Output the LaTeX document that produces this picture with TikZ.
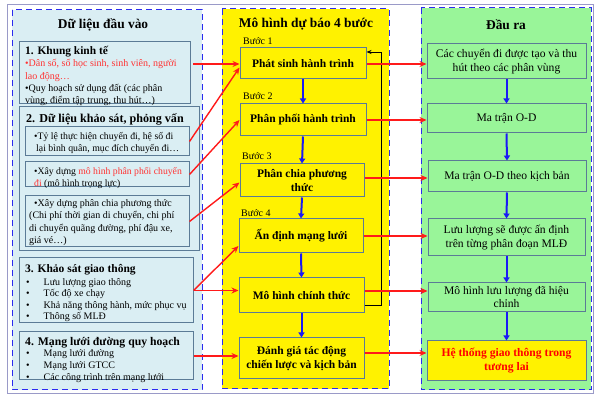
\documentclass[tikz,border=0pt]{standalone}
\usepackage{fontspec}
\setmainfont{Liberation Serif}
\usetikzlibrary{arrows.meta}
\definecolor{lblue}{HTML}{DAEEF3}
\definecolor{ygreen}{HTML}{99F599}
\definecolor{boxline}{HTML}{5B7B96}
\definecolor{dashblue}{HTML}{2B2BF0}
\definecolor{redarr}{HTML}{FF1A1A}
\definecolor{redtxt}{HTML}{FF3333}
\definecolor{bluearr}{HTML}{1A1AF5}
\definecolor{framecol}{HTML}{9A9AC8}
\tikzset{
  colbox/.style={draw=dashblue, line width=1pt, dash pattern=on 6pt off 4pt},
  inbox/.style={draw=boxline, line width=1pt, inner sep=0pt},
  ttl/.style={font=\bfseries\fontsize{13.4}{15}\selectfont, inner sep=0pt},
  btitle/.style={font=\bfseries\fontsize{11.6}{14}\selectfont, anchor=west, inner sep=0pt},
  body/.style={font=\fontsize{10}{12.3}\selectfont, anchor=north west, align=left, inner sep=0pt},
  midtxt/.style={font=\bfseries\fontsize{11.5}{13.5}\selectfont, align=center},
  rtxt/.style={font=\fontsize{11.6}{14}\selectfont, align=center},
  steplbl/.style={font=\fontsize{10}{11}\selectfont, anchor=west, inner sep=0pt},
  redline/.style={color=redarr, draw=redarr, line width=1.4pt, -{Stealth[length=7pt,width=6pt]}},
  blueline/.style={color=bluearr, draw=bluearr, line width=2pt, -{Triangle[length=5pt,width=6pt]}},
  blkline/.style={color=black, draw=black, line width=0.9pt, -{Stealth[length=5pt,width=4pt]}}
}
\begin{document}
\begin{tikzpicture}[x=1pt,y=-1pt]
\useasboundingbox (0,0) rectangle (595,395);
\draw[framecol, line width=0.6pt] (7,4) rectangle (593,393);
\path[fill=lblue, colbox] (12,10) rectangle (202,390);
\path[fill=yellow, colbox] (222,9) rectangle (389,389);
\path[fill=ygreen, colbox] (421,8) rectangle (591,390);
\node[ttl] (tL) at (103,24.5) {Dữ liệu đầu vào};
\node[ttl] (tM) at (306,24.5) {Mô hình dự báo 4 bước};
\node[ttl] (tR) at (506,24.5) {Đầu ra};
\node[inbox, fill=lblue, minimum width=171pt, minimum height=62pt] (L1) at (104.5,73) {};
\node[inbox, fill=lblue, minimum width=180pt, minimum height=144pt] (L2) at (109,179) {};
\node[inbox, fill=lblue, minimum width=164pt, minimum height=29pt] (La) at (107,141.5) {};
\node[inbox, fill=lblue, minimum width=164pt, minimum height=25pt] (Lb) at (107,174.5) {};
\node[inbox, fill=lblue, minimum width=164pt, minimum height=51pt] (Lc) at (107,221.5) {};
\node[inbox, fill=lblue, minimum width=174pt, minimum height=65pt] (L3) at (106,290.5) {};
\node[inbox, fill=lblue, minimum width=174pt, minimum height=48pt] (L4) at (106,356) {};
\node[btitle, font=\bfseries\fontsize{11.4}{14}\selectfont] (L1t) at (25,52) {1. Khung kinh tế};
\node[body] (L1b) at (25,59.5) {\color{redtxt}•Dân số, số học sinh, sinh viên, người\\\color{redtxt}lao động…\\•Quy hoạch sử dụng đất (các phân\\vùng, điểm tập trung, thu hút…)};
\node[btitle, font=\bfseries\fontsize{12.1}{14}\selectfont] (L2t) at (26,119.5) {2. Dữ liệu khảo sát, phỏng vấn};
\node[body, font=\fontsize{9.8}{12.3}\selectfont] (Lab) at (34,132) {•Tỷ lệ thực hiện chuyến đi, hệ số đi\\\hspace{2pt}lại bình quân, mục đích chuyến đi…};
\node[body, font=\fontsize{9.7}{11.3}\selectfont] (Lbb) at (34,167.5) {•Xây dựng {\color{redtxt}mô hình phân phối chuyến}\\{\color{redtxt}đi} (mô hình trọng lực)};
\node[body] (Lcb) at (29,199.5) {\hspace{5pt}•Xây dựng phân chia phương thức\\(Chi phí thời gian di chuyển, chi phí\\di chuyển quãng đường, phí đậu xe,\\giá vé…)};
\node[btitle, font=\bfseries\fontsize{11.5}{14}\selectfont] (L3t) at (25,269.5) {3. Khảo sát giao thông};
\node[body, font=\fontsize{10}{11.6}\selectfont] (L3b) at (26,278) {•\hspace{14pt}Lưu lượng giao thông\\•\hspace{14pt}Tốc độ xe chạy\\•\hspace{14pt}Khả năng thông hành, mức phục vụ\\•\hspace{14pt}Thông số MLĐ};
\node[btitle, font=\bfseries\fontsize{11.7}{14}\selectfont] (L4t) at (25,342.5) {4. Mạng lưới đường quy hoạch};
\node[body] (L4b) at (26,349) {•\hspace{14pt}Mạng lưới đường\\•\hspace{14pt}Mạng lưới GTCC\\•\hspace{14pt}Các công trình trên mạng lưới};
\node[steplbl] (s1) at (243,41) {Bước 1};
\node[steplbl] (s2) at (243,96) {Bước 2};
\node[steplbl] (s3) at (242,156) {Bước 3};
\node[steplbl] (s4) at (241,213) {Bước 4};
\node[inbox, fill=yellow, midtxt, minimum width=126pt, minimum height=31pt] (m1) at (303,63.5) {Phát sinh hành trình};
\node[inbox, fill=yellow, midtxt, minimum width=126pt, minimum height=32pt] (m2) at (303,120) {Phân phối hành trình};
\node[inbox, fill=yellow, midtxt, minimum width=124pt, minimum height=33pt] (m3) at (302,180.5) {Phân chia phương\\thức};
\node[inbox, fill=yellow, midtxt, minimum width=124pt, minimum height=34pt] (m4) at (301,236) {Ấn định mạng lưới};
\node[inbox, fill=yellow, midtxt, minimum width=125pt, minimum height=35pt] (m5) at (301.5,295.5) {Mô hình chính thức};
\node[inbox, fill=yellow, midtxt, minimum width=125pt, minimum height=41pt] (m6) at (301.5,358.5) {Đánh giá tác động\\chiến lược và kịch bản};
\node[inbox, fill=ygreen, rtxt, minimum width=159pt, minimum height=35pt] (r1) at (506.5,61.5) {Các chuyển đi được tạo và thu\\hút theo các phân vùng};
\node[inbox, fill=ygreen, rtxt, minimum width=159pt, minimum height=29pt] (r2) at (506.5,118.5) {Ma trận O-D};
\node[inbox, fill=ygreen, rtxt, minimum width=158pt, minimum height=31pt] (r3) at (507,176.5) {Ma trận O-D theo kịch bản};
\node[inbox, fill=ygreen, rtxt, minimum width=157pt, minimum height=37pt] (r4) at (506.5,237.5) {Lưu lượng sẽ được ấn định\\trên từng phân đoạn MLĐ};
\node[inbox, fill=ygreen, rtxt, font=\fontsize{11.6}{13}\selectfont, minimum width=157pt, minimum height=29pt] (r5) at (506.5,297.5) {Mô hình lưu lượng đã hiệu\\chỉnh};
\node[inbox, fill=yellow, minimum width=159pt, minimum height=40pt, font=\bfseries\fontsize{11.6}{14}\selectfont, text=red, align=center] (r6) at (506.5,361) {Hệ thống giao thông trong\\tương lai};
\coordinate (fb1) at (381,305);
\coordinate (fb2) at (381,52);
\coordinate (a1s) at (193,64);
\coordinate (y3) at (0,178);
\coordinate (y5) at (0,291);
\coordinate (y6) at (0,353);
\draw[blkline] (m5.east |- fb1) -- (fb1) -- (fb2) -- (m1.east |- fb2);
\foreach \sa/\sb in {m1/m2,m2/m3,m3/m4,m4/m5,m5/m6,r1/r2,r2/r3,r3/r4,r4/r5,r5/r6}
  {\draw[blueline] (\sa.south) -- (\sb.north);}
\draw[redline] (a1s) -- (m1.west |- a1s);
\draw[redline] (La.east) -- ([yshift=-4pt]m1.west);
\draw[redline] (Lb.east) -- (m2.west);
\draw[redline] (Lc.east) -- ([yshift=-2pt]m3.west);
\draw[redline] (L3.east) -- ([yshift=-10pt]m4.west);
\draw[redline] (L3.east) -- (m5.west |- L3.east);
\draw[redline] (L4.east) -- (m6.west |- L4.east);
\draw[redline] (m1.east |- a1s) -- (r1.west |- a1s);
\draw[redline] (m2.east) -- (r2.west |- m2.east);
\draw[redline] (m3.east |- y3) -- (r3.west |- y3);
\draw[redline] (m4.east) -- (r4.west |- m4.east);
\draw[redline] (m5.east |- y5) -- (r5.west |- y5);
\draw[redline] (m6.east |- y6) -- (r6.west |- y6);
\end{tikzpicture}
\end{document}
